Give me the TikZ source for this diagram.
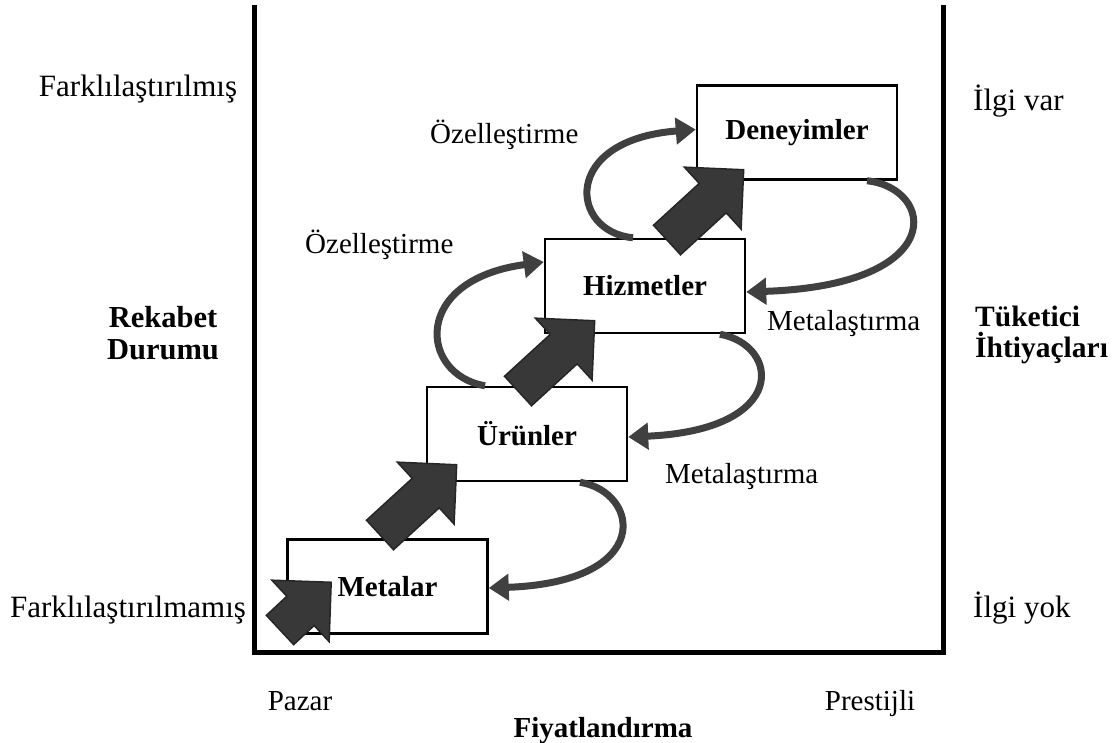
\documentclass[tikz,border=0pt]{standalone}
\usepackage{fontspec}
\setmainfont{Liberation Serif}
\usetikzlibrary{arrows.meta,calc}
\definecolor{blockgray}{HTML}{383838}
\definecolor{blockedge}{HTML}{262626}
\definecolor{curvegray}{HTML}{404040}
\tikzset{
  txt/.style={font=\fontsize{29}{33}\selectfont, inner sep=0pt},
  sidetxt/.style={font=\fontsize{31}{35}\selectfont, inner sep=0pt},
  btxt/.style={font=\fontsize{29}{33}\selectfont\bfseries, inner sep=0pt},
  sidebtxt/.style={font=\fontsize{30.5}{35}\selectfont\bfseries, inner sep=0pt},
  rightbtxt/.style={font=\fontsize{29.5}{34}\selectfont\bfseries, inner sep=0pt},
  stagebox/.style={draw=black, line width=2.5pt, fill=white, minimum width=200pt, minimum height=94pt, inner sep=0pt, font=\fontsize{29}{33}\selectfont\bfseries},
  loopcurve/.style={draw=curvegray, line width=7pt, -{Triangle[length=20pt,width=26pt]}},
  pics/blockarrow/.style={code={
    \filldraw[fill=blockgray, draw=blockedge, line width=1.5pt, line join=miter]
      (0,-20) -- (#1,-20) -- (#1,-42) -- (#1+42,0) -- (#1,42) -- (#1,20) -- (0,20) -- cycle;
  }}
}
\begin{document}
\begin{tikzpicture}[x=1pt,y=-1pt]
\useasboundingbox (0,0) rectangle (1113,742);
% frame
\draw[line width=5pt, line join=miter] (254,5) -- (254,652) -- (943,652) -- (943,5);
% boxes
\node[stagebox] (m) at (387.5,586.5) {Metalar};
\node[stagebox] (u) at (527,434) {Ürünler};
\node[stagebox] (h) at (645,286) {Hizmetler};
\node[stagebox] (d) at (797,132.5) {Deneyimler};
% curved arrows
\draw[loopcurve] ([xshift=-42pt]u.north) .. controls (420,375) and (410,280) .. ([yshift=24pt]h.west);
\draw[loopcurve] ([xshift=-12pt]h.north) .. controls (570,232) and (560,140) .. ([yshift=3pt]d.west);
\draw[loopcurve] ([xshift=70pt]d.south) .. controls (935,188) and (950,285) .. ([yshift=-6pt]h.east);
\draw[loopcurve] ([xshift=75pt]h.south) .. controls (780,345) and (790,430) .. ([yshift=-3pt]u.east);
\draw[loopcurve] ([xshift=53pt]u.south) .. controls (640,492) and (655,582) .. ([yshift=-1.5pt]m.east);
% block arrows
\pic[rotate=43] at (280,630) {blockarrow=28};
\pic[rotate=42.5] at (380,535) {blockarrow=62};
\pic[rotate=42.5] at (518,391) {blockarrow=62};
\pic[rotate=42.5] at (667,240) {blockarrow=62};
% labels
\node[sidetxt, anchor=base] (fl) at (138,96) {Farklılaştırılmış};
\node[sidetxt, anchor=base] (fm) at (128,617) {Farklılaştırılmamış};
\node[sidetxt, anchor=base west] (iv) at (973,110) {İlgi var};
\node[sidetxt, anchor=base west] (iy) at (973,617) {İlgi yok};
\node[sidebtxt, anchor=base] (rk) at (163,327) {Rekabet};
\node[sidebtxt, anchor=base] (dr) at (163,359) {Durumu};
\node[rightbtxt, anchor=base west] (tk) at (975,326) {Tüketici};
\node[rightbtxt, anchor=base west] (ih) at (975,357) {İhtiyaçları};
\node[txt, anchor=base west] (oz1) at (430,143) {Özelleştirme};
\node[txt, anchor=base west] (oz2) at (305,253) {Özelleştirme};
\node[txt, anchor=base west] (mt1) at (767,330) {Metalaştırma};
\node[txt, anchor=base west] (mt2) at (665,483) {Metalaştırma};
\node[txt, anchor=base] (pz) at (300,710) {Pazar};
\node[txt, anchor=base] (pr) at (870,710) {Prestijli};
\node[btxt, anchor=base] (fy) at (603,737) {Fiyatlandırma};
\end{tikzpicture}
\end{document}
